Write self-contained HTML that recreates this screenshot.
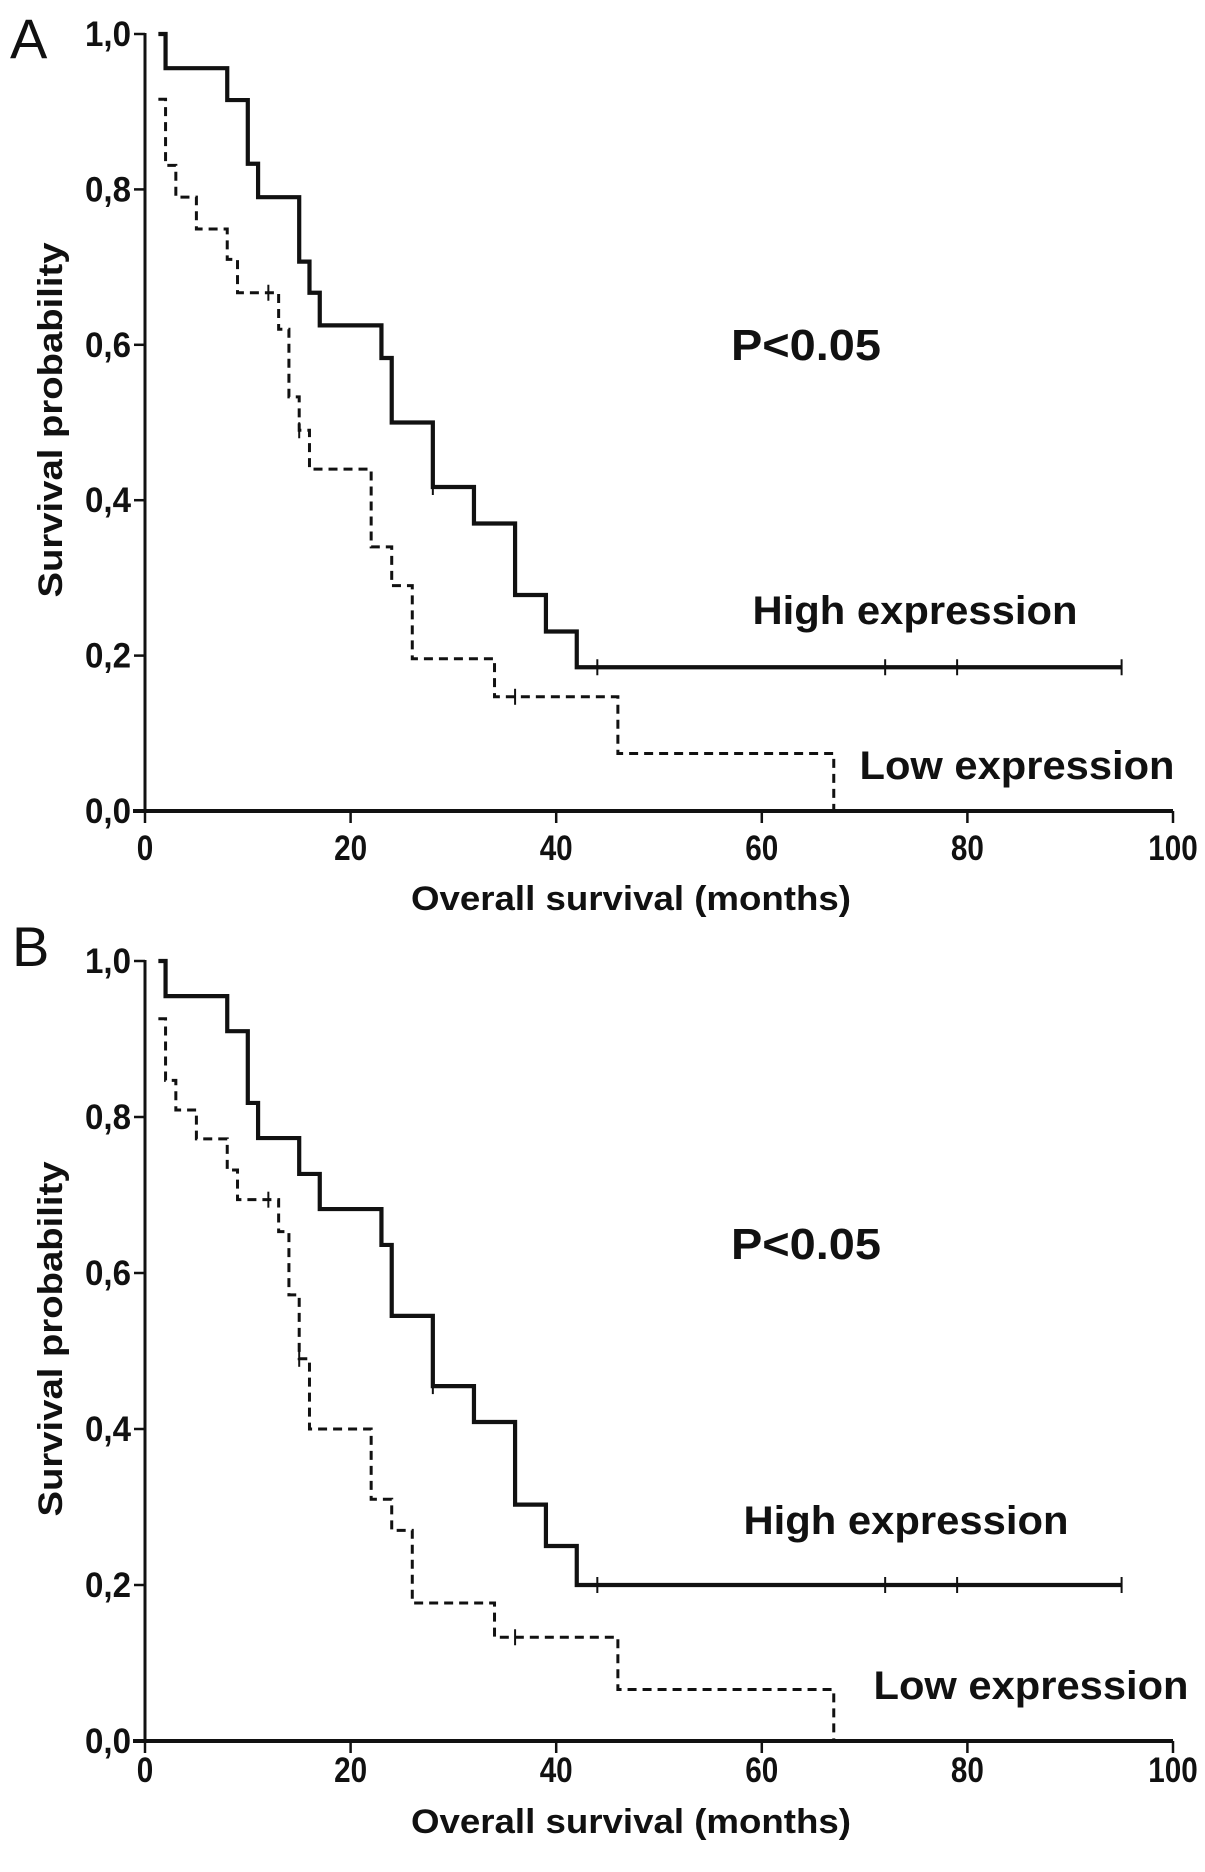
<!DOCTYPE html>
<html><head><meta charset="utf-8"><style>
html,body{margin:0;padding:0;background:#fff;width:1205px;height:1872px;overflow:hidden}
svg text{font-family:"Liberation Sans",Arial,sans-serif;font-weight:bold;fill:#111}
</style></head><body>
<svg id="fig" width="1205" height="1872" viewBox="0 0 1205 1872" xmlns="http://www.w3.org/2000/svg"></svg>
<script>
// Panel A data
const aHighTimes = [1.3, 2, 8, 10, 11, 15, 16, 17, 23, 24, 28, 32, 36, 39, 42, 95];
const aHighSurv  = [1.0, 0.956, 0.915, 0.833, 0.79, 0.707, 0.667, 0.625, 0.583, 0.5, 0.417, 0.37, 0.278, 0.231, 0.185, 0.185];
const aHighCens  = [28, 44, 72, 79, 95];
const aLowTimes  = [1.3, 2, 3, 5, 8, 9, 13, 14, 15, 16, 22, 24, 26, 34, 46, 67];
const aLowSurv   = [0.916, 0.831, 0.79, 0.749, 0.71, 0.667, 0.62, 0.533, 0.49, 0.44, 0.34, 0.29, 0.196, 0.147, 0.074, 0.0];
const aLowCens   = [12, 15, 36];
// Panel B data
const bHighTimes = [1.3, 2, 8, 10, 11, 15, 17, 23, 24, 28, 32, 36, 39, 42, 95];
const bHighSurv  = [1.0, 0.955, 0.91, 0.818, 0.773, 0.727, 0.682, 0.636, 0.545, 0.455, 0.409, 0.303, 0.25, 0.2, 0.2];
const bHighCens  = [28, 44, 72, 79, 95];
const bLowTimes  = [1.3, 2, 3, 5, 8, 9, 13, 14, 15, 16, 22, 24, 26, 34, 46, 67];
const bLowSurv   = [0.926, 0.847, 0.809, 0.772, 0.732, 0.694, 0.653, 0.572, 0.49, 0.40, 0.31, 0.27, 0.177, 0.133, 0.066, 0.0];
const bLowCens   = [12, 15, 36];
const xTicks = [0, 20, 40, 60, 80, 100];
const yTicks = [0, 0.2, 0.4, 0.6, 0.8, 1.0];
const yTickLabels = ["0,0", "0,2", "0,4", "0,6", "0,8", "1,0"];

const NS = "http://www.w3.org/2000/svg";
const svg = document.getElementById('fig');
function mk(tag, attrs, parent){const e=document.createElementNS(NS,tag);for(const k in attrs)e.setAttribute(k,attrs[k]);(parent||svg).appendChild(e);return e;}
function txt(s, attrs, parent){const e=mk('text',attrs,parent);e.textContent=s;return e;}

function panel(cfg){
  const g = mk('g',{});
  
  
  const x0 = 145, xs = 10.28;
  const X = v => x0 + v * xs;
  const Y = v => cfg.y0 - v * cfg.ys;
  const ya = mk('line',{x1:x0,y1:Y(1)-1,x2:x0,y2:Y(0),stroke:'#111','stroke-width':3},g);
  
  
  const xa = mk('line',{x1:x0-12,y1:Y(0),x2:X(100),y2:Y(0),stroke:'#111','stroke-width':4},g);
  
  
  yTicks.forEach((t,i)=>{
    mk('line',{x1:x0-11,y1:Y(t),x2:x0,y2:Y(t),stroke:'#111','stroke-width':2.5},g);
    const l = txt(yTickLabels[i],{x:x0-14,y:Y(t)+12,'text-anchor':'end','font-size':35,textLength:46,lengthAdjust:'spacingAndGlyphs'},g);
    
    
  });
  xTicks.forEach(t=>{
    mk('line',{x1:X(t),y1:Y(0),x2:X(t),y2:Y(0)+12,stroke:'#111','stroke-width':2.5},g);
    const s = String(t);
    const l = txt(s,{x:X(t),y:cfg.xTickY,'text-anchor':'middle','font-size':35,textLength:s.length*16.5,lengthAdjust:'spacingAndGlyphs'},g);
    
    
  });
  function curve(times, surv, cens, dashed, name){
    let d = 'M' + X(times[0]) + ' ' + Y(surv[0]);
    for(let i=1;i<times.length;i++){
      d += ' H' + X(times[i]) + ' V' + Y(surv[i]);
    }
    const p = mk('path',{d:d,fill:'none',stroke:'#111','stroke-width':dashed?3:4.2,'stroke-dasharray':dashed?'9 6':'none'},g);
    
    
    cens.forEach(c=>{
      let s = surv[0];
      for(let i=0;i<times.length;i++){ if(times[i] <= c) s = surv[i]; }
      const m = mk('line',{x1:X(c),y1:Y(s)-8,x2:X(c),y2:Y(s)+8,stroke:'#111','stroke-width':2},g);
      
      
    });
  }
  curve(cfg.hT, cfg.hS, cfg.hC, false, 'high-expression-curve');
  curve(cfg.lT, cfg.lS, cfg.lC, true, 'low-expression-curve');
  const pl = txt(cfg.id,{x:cfg.letterX,y:cfg.letterY,'font-size':56,style:'font-weight:normal'},g);
  
  
  const pv = txt('P<0.05',{x:806,y:cfg.pY,'text-anchor':'middle','font-size':44,textLength:150,lengthAdjust:'spacingAndGlyphs'},g);
  
  
  const hl = txt('High expression',{x:cfg.hiX,y:cfg.hiY,'text-anchor':'middle','font-size':40,textLength:325,lengthAdjust:'spacingAndGlyphs'},g);
  
  
  const ll = txt('Low expression',{x:cfg.loX,y:cfg.loY,'text-anchor':'middle','font-size':40,textLength:315,lengthAdjust:'spacingAndGlyphs'},g);
  
  
  const xt = txt('Overall survival (months)',{x:631,y:cfg.xTitleY,'text-anchor':'middle','font-size':34,textLength:440,lengthAdjust:'spacingAndGlyphs'},g);
  
  
  const yt = txt('Survival probability',{x:0,y:0,'text-anchor':'middle','font-size':34,textLength:355,lengthAdjust:'spacingAndGlyphs',transform:'translate(62,'+cfg.yTitleY+') rotate(-90)'},g);
  
  
}

panel({id:'A', y0:811, ys:777, xTickY:860, letterX:10, letterY:58, pY:360, hiX:915, hiY:624, loX:1017, loY:779, xTitleY:910, yTitleY:420,
  hT:aHighTimes,hS:aHighSurv,hC:aHighCens,lT:aLowTimes,lS:aLowSurv,lC:aLowCens});
panel({id:'B', y0:1741, ys:780, xTickY:1782, letterX:12, letterY:966, pY:1259, hiX:906, hiY:1534, loX:1031, loY:1699, xTitleY:1833, yTitleY:1339,
  hT:bHighTimes,hS:bHighSurv,hC:bHighCens,lT:bLowTimes,lS:bLowSurv,lC:bLowCens});
</script>
</body></html>
